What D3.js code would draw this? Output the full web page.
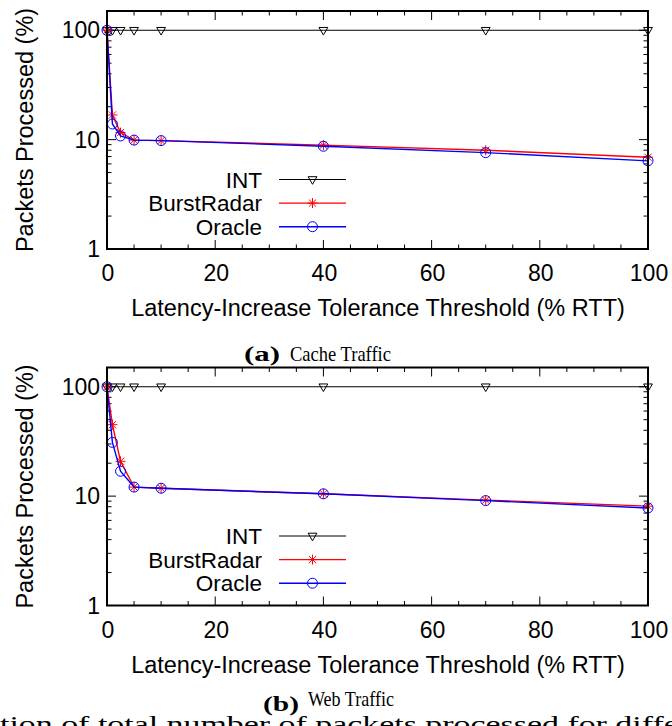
<!doctype html>
<html lang='en'>
<head>
  <meta charset='utf-8'>
  <title>Packets Processed vs Latency-Increase Tolerance Threshold</title>
  <style>
    html, body { margin: 0; padding: 0; background: #fff; }
    svg { display: block; }
    text { font-family: 'Liberation Sans', Arial, Helvetica, sans-serif; fill: #000; }
    text.serif { font-family: 'Liberation Serif', 'DejaVu Serif', serif; }
  </style>
</head>
<body>
<script src='https://d3js.org/d3.v7.min.js'></script>
<script>
  // x values (% RTT) shared by all series
  const thresholds = [0, 1, 2.5, 5, 10, 40, 70, 100]

  // (a) cache traffic
  const cacheInt = [100, 100, 100, 100, 100, 100, 100, 100]
  const cacheBurstRadar = [100, 16.8, 11.6, 9.9, 9.8, 8.9, 8.0, 6.9]
  const cacheOracle = [100, 13.9, 10.8, 9.9, 9.8, 8.7, 7.6, 6.4]

  // (b) web traffic
  const webInt = [100, 100, 100, 100, 100, 100, 100, 100]
  const webBurstRadar = [100, 45, 20.8, 12.1, 11.8, 10.5, 9.2, 8.1]
  const webOracle = [100, 31, 16.9, 12.1, 11.8, 10.5, 9.1, 7.8]

  const seriesNames = ['INT', 'BurstRadar', 'Oracle']
  const seriesColors = ['#000', '#ff0000', '#0000ff']
  const xTickValues = [0, 20, 40, 60, 80, 100]
  const yTickValues = [1, 10, 100]
  const xLabel = 'Latency-Increase Tolerance Threshold (% RTT)'
  const yLabel = 'Packets Processed (%)'
  const pageText = 'tion of total number of packets processed for differ'

  const width = 672
  const height = 726
  const left = 107
  const right = 648
  const plotH = 238

  const panels = [
    { top: 11, series: [cacheInt, cacheBurstRadar, cacheOracle], tag: '(a)', caption: 'Cache Traffic',
      tagX: 244, capX: 290, capW: 101, capY: 361, tagY: 361 },
    { top: 367.5, series: [webInt, webBurstRadar, webOracle], tag: '(b)', caption: 'Web Traffic',
      tagX: 263, capX: 308, capW: 86, capY: 706, tagY: 711 }
  ]

  const svg = d3.select('body').append('svg')
    .attr('width', width)
    .attr('height', height)

  const x = d3.scaleLinear().domain([0, 100]).range([left, right])

  // gnuplot style point types
  const marker = (g, kind, cx, cy, color) => {
    if (kind === 0) {
      g.append('path')
        .attr('d', `M${cx - 4.4},${cy - 2.8}L${cx + 4.4},${cy - 2.8}L${cx},${cy + 4.8}Z`)
        .attr('fill', 'none').attr('stroke', color).attr('stroke-width', 1)
    } else if (kind === 1) {
      const r = 5, d = 3.6
      g.append('path')
        .attr('d', `M${cx - r},${cy}H${cx + r}M${cx},${cy - r}V${cy + r}M${cx - d},${cy - d}L${cx + d},${cy + d}M${cx - d},${cy + d}L${cx + d},${cy - d}`)
        .attr('fill', 'none').attr('stroke', color).attr('stroke-width', 1)
    } else {
      g.append('circle')
        .attr('cx', cx).attr('cy', cy).attr('r', 5)
        .attr('fill', 'none').attr('stroke', color).attr('stroke-width', 1)
    }
  }

  panels.forEach(p => {
    const bottom = p.top + plotH
    const y = d3.scaleLog().domain([1, 150]).range([bottom, p.top])
    const g = svg.append('g')

    // ticks, inward on all four sides
    const ticks = g.append('g').attr('stroke', '#000').attr('stroke-width', 1)
    d3.range(0, 101, 5).forEach(v => {
      const len = v % 20 === 0 ? 9 : 4.5
      ticks.append('line').attr('x1', x(v)).attr('x2', x(v)).attr('y1', bottom).attr('y2', bottom - len)
      ticks.append('line').attr('x1', x(v)).attr('x2', x(v)).attr('y1', p.top).attr('y2', p.top + len)
    })
    const yMinor = []
    yTickValues.forEach(d => d3.range(2, 10).forEach(k => { if (d * k <= 150) yMinor.push(d * k) }))
    yTickValues.concat(yMinor).forEach(v => {
      const len = yTickValues.includes(v) ? 9 : 4.5
      ticks.append('line').attr('x1', left).attr('x2', left + len).attr('y1', y(v)).attr('y2', y(v))
      ticks.append('line').attr('x1', right).attr('x2', right - len).attr('y1', y(v)).attr('y2', y(v))
    })

    // tick labels
    g.selectAll('.xt').data(xTickValues).join('text')
      .attr('x', d => x(d) + 1).attr('y', bottom + 32)
      .attr('text-anchor', 'middle').style('font-size', '23px')
      .text(d => d)
    g.selectAll('.yt').data(yTickValues).join('text')
      .attr('x', 100).attr('y', d => y(d) + 8)
      .attr('text-anchor', 'end').style('font-size', '23px')
      .text(d => d)

    // axis titles
    g.append('text')
      .attr('x', (left + right) / 2 + 0.5).attr('y', bottom + 67)
      .attr('text-anchor', 'middle').style('font-size', '23.5px')
      .text(xLabel)
    g.append('text')
      .attr('transform', `translate(33,${(p.top + bottom) / 2}) rotate(-90)`)
      .attr('text-anchor', 'middle').style('font-size', '23.5px')
      .text(yLabel)

    // lines and points
    const line = d3.line().x(d => x(d[0])).y(d => y(d[1]))
    p.series.forEach((vals, i) => {
      const pts = thresholds.map((t, j) => [t, vals[j]])
      g.append('path')
        .datum(pts)
        .attr('d', line)
        .attr('fill', 'none')
        .attr('stroke', seriesColors[i])
        .attr('stroke-width', i === 0 ? 1 : 1.4)
      pts.forEach(d => marker(g, i, x(d[0]), y(d[1]), seriesColors[i]))
    })

    // legend
    seriesNames.forEach((name, i) => {
      const ly = p.top + 168.5 + i * 23.6
      g.append('text')
        .attr('x', 262).attr('y', ly + 8)
        .attr('text-anchor', 'end').style('font-size', '22.5px')
        .text(name)
      g.append('line')
        .attr('x1', 279).attr('x2', 346).attr('y1', ly).attr('y2', ly)
        .attr('stroke', seriesColors[i]).attr('stroke-width', i === 0 ? 1 : 1.4)
      marker(g, i, 312.5, ly, seriesColors[i])
    })

    // frame
    g.append('rect')
      .attr('x', left).attr('y', p.top)
      .attr('width', right - left).attr('height', plotH)
      .attr('fill', 'none').attr('stroke', '#000').attr('stroke-width', 2)

    // sub-caption
    g.append('text')
      .attr('class', 'serif')
      .attr('x', p.tagX).attr('y', p.tagY)
      .attr('textLength', 36).attr('lengthAdjust', 'spacingAndGlyphs')
      .style('font-size', '21.5px').style('font-weight', 'bold')
      .text(p.tag)
    g.append('text')
      .attr('class', 'serif')
      .attr('x', p.capX).attr('y', p.capY)
      .attr('textLength', p.capW).attr('lengthAdjust', 'spacingAndGlyphs')
      .style('font-size', '21px')
      .text(p.caption)
  })

  // body text of the page peeking in below the figure
  svg.append('text')
    .attr('class', 'serif')
    .attr('x', 0).attr('y', 732)
    .attr('textLength', 690).attr('lengthAdjust', 'spacingAndGlyphs')
    .style('font-size', '23px')
    .text(pageText)
</script>
</body>
</html>
